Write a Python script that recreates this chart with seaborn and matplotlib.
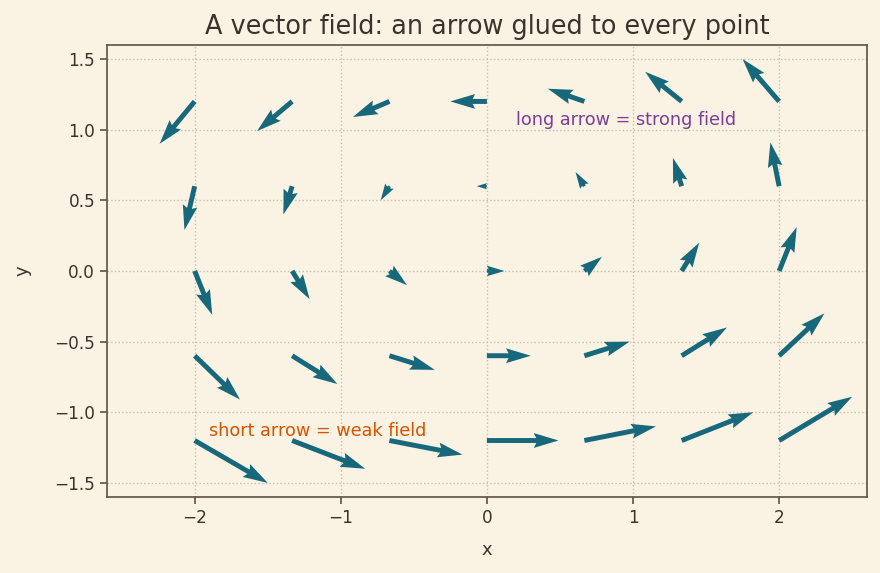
import numpy as np
import matplotlib
matplotlib.use('Agg')
import matplotlib.pyplot as plt
import seaborn as sns

# grid points (tails of the arrows)
x_pts = [-2.0, -1.333, -0.667, 0.0, 0.667, 1.333, 2.0]
y_pts = [1.2, 0.6, 0.0, -0.6, -1.2]

# arrow components, one row per y value (top to bottom)
u_rows = [
    [-0.24, -0.24, -0.25, -0.25, -0.25, -0.25, -0.25],
    [-0.07, -0.06, -0.06, -0.07, -0.06, -0.06, -0.06],
    [0.12, 0.12, 0.12, 0.12, 0.12, 0.12, 0.12],
    [0.31, 0.31, 0.31, 0.30, 0.31, 0.31, 0.31],
    [0.50, 0.50, 0.50, 0.49, 0.49, 0.49, 0.50],
]
v_rows = [
    [-0.30, -0.21, -0.11, 0.0, 0.09, 0.21, 0.30],
    [-0.31, -0.20, -0.10, 0.0, 0.10, 0.20, 0.31],
    [-0.31, -0.20, -0.10, 0.0, 0.10, 0.20, 0.31],
    [-0.31, -0.20, -0.10, 0.0, 0.10, 0.20, 0.30],
    [-0.30, -0.20, -0.10, 0.0, 0.10, 0.20, 0.31],
]

bg = '#faf3e4'
ink = '#3b332b'
edge = '#5c5142'
arrow_col = '#17687a'

sns.set_theme(style='ticks')
plt.rcParams.update({
    'figure.facecolor': bg,
    'axes.facecolor': bg,
    'axes.edgecolor': edge,
    'axes.labelcolor': ink,
    'text.color': ink,
    'xtick.color': edge,
    'ytick.color': edge,
    'xtick.labelcolor': ink,
    'ytick.labelcolor': ink,
})
plt.rcParams['font.family'] = ['DejaVu Sans']

X, Y = np.meshgrid(x_pts, y_pts)
U = np.array(u_rows)
V = np.array(v_rows)

fig = plt.figure(figsize=(8.8, 5.73), dpi=100)
ax = fig.add_axes([0.1216, 0.1326, 0.8634, 0.789])

ax.quiver(X, Y, U, V, angles='xy', scale_units='xy', scale=1,
          color=arrow_col, width=0.0065, zorder=3)

ax.set_xlim(-2.6, 2.6)
ax.set_ylim(-1.6, 1.6)
ax.set_xticks([-2, -1, 0, 1, 2])
ax.set_yticks([-1.5, -1.0, -0.5, 0.0, 0.5, 1.0, 1.5])
ax.grid(True, linestyle=':', color='#c9bda7', linewidth=1.0)
ax.tick_params(labelsize=12.2, length=5, width=1.2)
for s in ax.spines.values():
    s.set_linewidth(1.2)

ax.set_title('A vector field: an arrow glued to every point', fontsize=18.4, color=ink, pad=8)
ax.set_xlabel('x', fontsize=13, labelpad=10)
ax.set_ylabel('y', fontsize=13, labelpad=16)

ax.text(0.2, 1.07, 'long arrow = strong field', color='#7d3c98', fontsize=12.7, va='center')
ax.text(-1.9, -1.13, 'short arrow = weak field', color='#d35400', fontsize=12.7, va='center')

fig.savefig('out.png', dpi=100, facecolor=bg)
